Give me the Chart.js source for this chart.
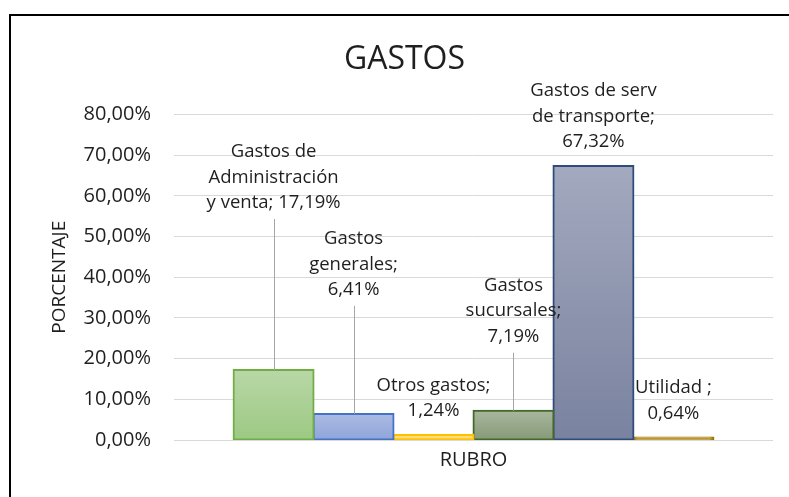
<!DOCTYPE html>
<html>
<head>
<meta charset="utf-8">
<script src="https://cdn.jsdelivr.net/npm/chart.js@4.4.0/dist/chart.umd.min.js"></script>
<style>
  html, body { margin: 0; padding: 0; background: #fff; overflow: hidden; }
  #wrap { position: relative; width: 789px; height: 497px; }
  #frame {
    position: absolute; left: 9px; top: 14px; width: 820px; height: 520px;
    border-left: 2px solid #000; border-top: 2px solid #000; pointer-events: none;
  }
</style>
</head>
<body>
<div id="wrap">
  <canvas id="chart" width="789" height="497"></canvas>
  <div id="frame"></div>
</div>
<script>
// data
const categories = [''];
const seriesNames = ['Gastos de Administración y venta', 'Gastos generales', 'Otros gastos',
                     'Gastos sucursales', 'Gastos de serv de transporte', 'Utilidad '];
const seriesValues = [17.19, 6.41, 1.24, 7.19, 67.32, 0.64];
const yTickValues = [0, 10, 20, 30, 40, 50, 60, 70, 80];

// styles (top colour, bottom colour, border)
const barStyles = [
  ['#b8d7a6', '#9cc982', '#70ad47'],
  ['#abbae3', '#8da4da', '#4472c4'],
  ['#ffe38a', '#ffd34d', '#ffc000'],
  ['#a8b79d', '#859977', '#43682b'],
  ['#a3a9be', '#79829f', '#2f4b7c'],
  ['#c49b33', '#b08a25', '#997300']
];
// label layout: lift of last label line above bar top (px), wrap width (px)
const labelLift = [167, 124, 24, 74, 24, 24];
const labelWrap = [140, 100, 120, 105, 132, 90];

const FONT = '"Open Sans", "Liberation Sans", sans-serif';
const TEXT = '#1f1f1f';

const fmtPct = v => v.toFixed(2).replace('.', ',') + '%';

function wrapText(ctx, text, maxW) {
  const words = text.split(' ').filter(w => w.length);
  const lines = [];
  let cur = '';
  words.forEach(w => {
    const test = cur ? cur + ' ' + w : w;
    if (cur && ctx.measureText(test).width > maxW) {
      lines.push(cur);
      cur = w;
    } else {
      cur = test;
    }
  });
  if (cur) lines.push(cur);
  return lines;
}

const barLabels = {
  id: 'barLabels',
  afterDatasetsDraw(chart) {
    const ctx = chart.ctx;
    const lineH = 25.6;
    ctx.save();
    ctx.font = '18.5px ' + FONT;
    ctx.fillStyle = TEXT;
    ctx.textAlign = 'center';
    ctx.textBaseline = 'middle';
    chart.data.datasets.forEach((ds, i) => {
      const bar = chart.getDatasetMeta(i).data[0];
      const text = ds.label + '; ' + fmtPct(ds.data[0]);
      const lines = wrapText(ctx, text, labelWrap[i]);
      const y0 = bar.y - labelLift[i];
      lines.forEach((ln, k) => {
        ctx.fillText(ln, bar.x, y0 - (lines.length - 1 - k) * lineH);
      });
      if (labelLift[i] > 40) {
        ctx.strokeStyle = '#a6a6a6';
        ctx.lineWidth = 1;
        ctx.beginPath();
        ctx.moveTo(Math.round(bar.x) + 0.5, y0 + 16);
        ctx.lineTo(Math.round(bar.x) + 0.5, bar.y);
        ctx.stroke();
      }
    });
    ctx.restore();
  }
};

function gradientFor(i) {
  return (c) => {
    const chart = c.chart;
    const y = chart.scales.y;
    if (!chart.chartArea || !y) return barStyles[i][0];
    const top = y.getPixelForValue(seriesValues[i]);
    const bottom = y.getPixelForValue(0);
    const g = chart.ctx.createLinearGradient(0, top, 0, bottom + 1);
    g.addColorStop(0, barStyles[i][0]);
    g.addColorStop(1, barStyles[i][1]);
    return g;
  };
}

const datasets = seriesNames.map((name, i) => ({
  label: name,
  data: [seriesValues[i]],
  backgroundColor: gradientFor(i),
  borderColor: barStyles[i][2],
  borderWidth: 2,
  borderSkipped: false,
  inflateAmount: 1,
  barPercentage: 1,
  categoryPercentage: 0.801
}));

new Chart(document.getElementById('chart'), {
  type: 'bar',
  data: { labels: categories, datasets: datasets },
  options: {
    responsive: false,
    animation: false,
    layout: { padding: { left: 36, right: 16, top: 0, bottom: 0 } },
    plugins: {
      legend: { display: false },
      tooltip: { enabled: false },
      title: {
        display: true,
        text: 'GASTOS',
        color: TEXT,
        font: { family: FONT, size: 32, weight: 'normal' },
        padding: { top: 41, bottom: 35 }
      }
    },
    scales: {
      x: {
        grid: { display: false },
        border: { display: false },
        ticks: { display: false },
        title: {
          display: true,
          text: 'RUBRO',
          color: TEXT,
          font: { family: FONT, size: 20 },
          padding: { top: 0, bottom: 25 }
        },
        afterFit: s => { s.height = 57; }
      },
      y: {
        min: yTickValues[0],
        max: yTickValues[yTickValues.length - 1],
        afterBuildTicks: s => { s.ticks = yTickValues.map(v => ({ value: v })); },
        grid: { color: '#d9d9d9', lineWidth: 1, drawTicks: false },
        border: { display: false },
        ticks: {
          color: TEXT,
          padding: 23,
          font: { family: FONT, size: 20 },
          callback: v => fmtPct(v)
        },
        title: {
          display: true,
          text: 'PORCENTAJE',
          color: TEXT,
          font: { family: FONT, size: 19 },
          padding: { top: 12, bottom: 0 }
        },
        afterFit: s => { s.width = 138; }
      }
    }
  },
  plugins: [barLabels]
});
</script>
</body>
</html>
